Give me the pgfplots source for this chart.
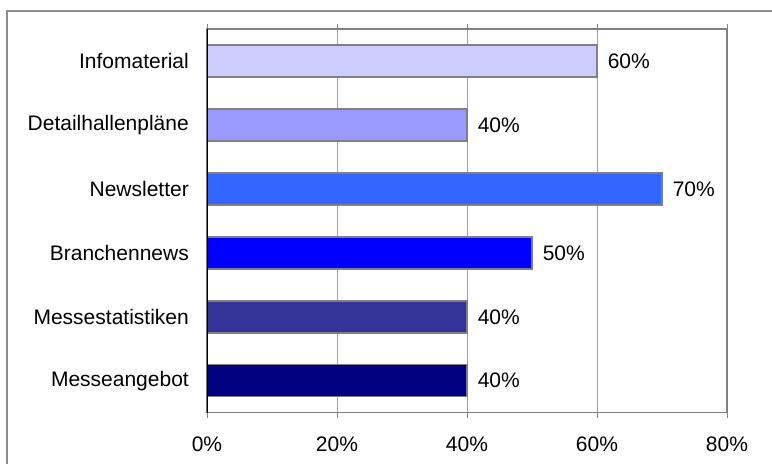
\documentclass[border=0pt]{standalone}
\usepackage{fontspec}
\setmainfont{Liberation Sans}
\usepackage{pgfplots}
\pgfplotsset{compat=1.18}
\definecolor{c1}{HTML}{CCCCFF}
\definecolor{c2}{HTML}{9999FF}
\definecolor{c3}{HTML}{3366FF}
\definecolor{c4}{HTML}{0000FF}
\definecolor{c5}{HTML}{333399}
\definecolor{c6}{HTML}{000080}
\definecolor{framegray}{HTML}{8C8C8C}
\definecolor{bargray}{HTML}{808080}
\definecolor{gridgray}{HTML}{A0A0A0}
\begin{document}
\begin{tikzpicture}[font=\fontsize{21bp}{25bp}\selectfont]
\useasboundingbox (-207bp,-51.3bp) rectangle (565bp,412.7bp);
\draw[framegray, line width=2bp] (-200bp,-120bp) rectangle (620bp,401.7bp);
\begin{axis}[
  /pgf/number format/assume math mode=true,
  at={(0,0)}, anchor=south west,
  scale only axis, width=520bp, height=383.7bp,
  xmin=0, xmax=80, ymin=-0.5, ymax=5.5,
  xtick={0,20,40,60,80},
  xticklabels={0\%,20\%,40\%,60\%,80\%},
  ytick={0,1,2,3,4,5},
  yticklabels={Messeangebot,Messestatistiken,Branchennews,Newsletter,Detailhallenpläne,Infomaterial},
  major tick length=5bp,
  y tick style={draw=none},
  x tick style={draw=bargray, line width=0.8bp},
  tick align=outside,
  xticklabel style={inner sep=0pt, anchor=north, yshift=-19bp},
  yticklabel style={inner sep=0pt, anchor=east, xshift=-13bp},
  extra y ticks={-0.5,0.5,1.5,2.5,3.5,4.5,5.5},
  extra y tick labels={},
  extra y tick style={grid=none, major tick length=7bp, tick align=outside, tick style={draw=black, line width=0.8bp}},
  xmajorgrids,
  grid style={gridgray, line width=0.8bp},
  axis line style={bargray, line width=1.5bp},
  xbar, bar width=0.5, bar shift=0pt,
  point meta=x,
  nodes near coords={\pgfmathprintnumber{\pgfplotspointmeta}\%},
  nodes near coords style={anchor=west, inner sep=0pt, xshift=10bp, black},
  every axis plot/.append style={draw=bargray, line width=1.5bp},
]
\addplot[fill=c6] coordinates {(40,0)};
\addplot[fill=c5] coordinates {(40,1)};
\addplot[fill=c4] coordinates {(50,2)};
\addplot[fill=c3] coordinates {(70,3)};
\addplot[fill=c2] coordinates {(40,4)};
\addplot[fill=c1] coordinates {(60,5)};
\draw[black, line width=1.2bp] (axis cs:0,-0.5) -- (axis cs:0,5.5);
\end{axis}
\end{tikzpicture}
\end{document}
